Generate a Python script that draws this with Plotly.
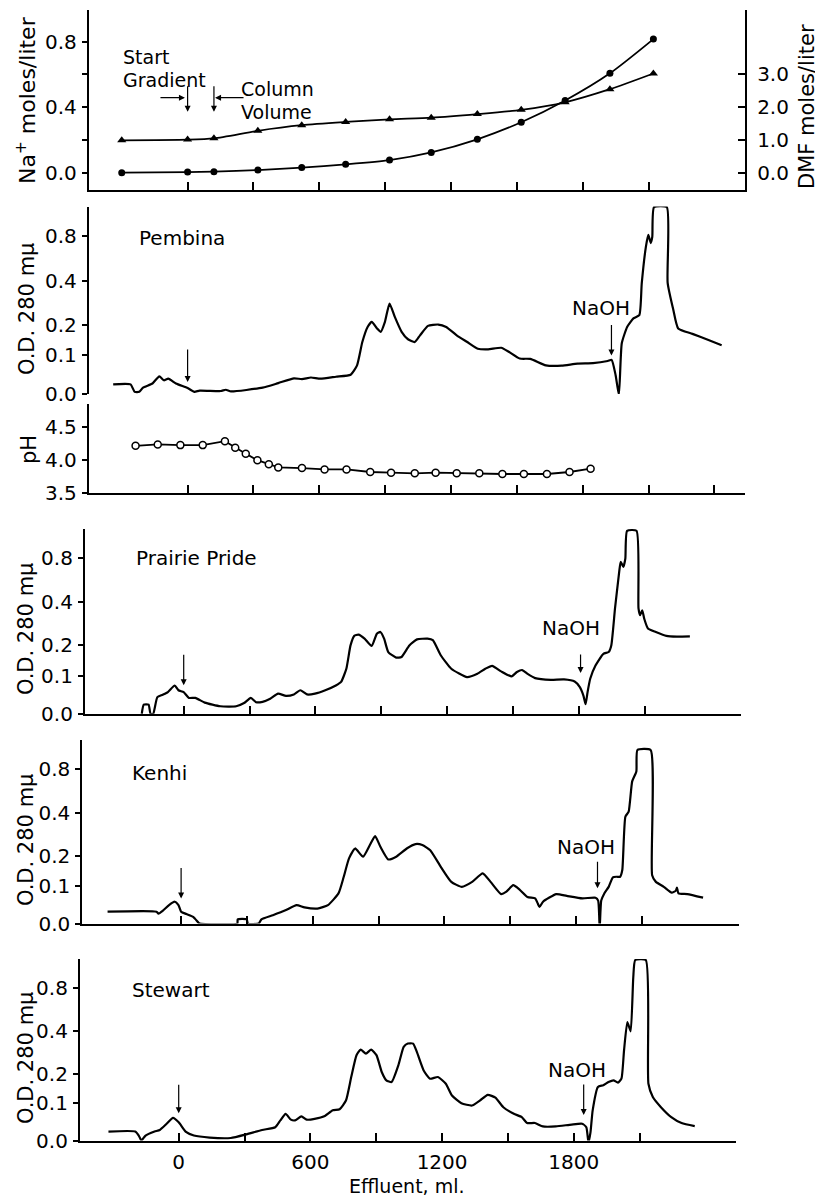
import plotly.graph_objects as go

# page body has an 8px margin: the figure is sized so it fills the window exactly
OFF = 8
W, H = 823 - OFF, 1197 - OFF
PX_PER_ML = 0.2195
X_MIN, X_MAX = -450, 2540
FONT = "DejaVu Sans"

# ---------------- data ----------------
X_TICKS = [0, 600, 1200, 1800]
X_TICK_LABELS = ["0", "600", "1200", "1800"]
X_MINOR = [300, 900, 1500, 2100]
OD_TICKS = [0.0, 0.1, 0.2, 0.4, 0.8]
OD_TICK_LABELS = ["0.0", "0.1", "0.2", "0.4", "0.8"]
NA_TICKS = [0.0, 0.4, 0.8]
NA_TICK_LABELS = ["0.0", "0.4", "0.8"]
NA_MINOR = [0.2, 0.6]
DMF_TICKS = [0, 1, 2, 3]
DMF_TICK_LABELS = ["0.0", "1.0", "2.0", "3.0"]
PH_TICKS = [3.5, 4.0, 4.5]
PH_TICK_LABELS = ["3.5", "4.0", "4.5"]

GRAD_ML = [-300, 0, 120, 320, 520, 720, 920, 1110, 1320, 1520, 1720, 1924, 2122]
NA = [0.000, 0.004, 0.006, 0.016, 0.031, 0.051, 0.077, 0.124, 0.204, 0.308, 0.441, 0.607, 0.816]
DMF = [0.99, 1.01, 1.05, 1.28, 1.45, 1.55, 1.63, 1.68, 1.79, 1.92, 2.15, 2.55, 3.03]

PH_ML = [-237, -136, -33, 69, 170, 217, 265, 318, 370, 413, 521, 624,
         724, 832, 927, 1035, 1130, 1226, 1329, 1434, 1532, 1637, 1740, 1836]
PH = [4.22, 4.24, 4.23, 4.23, 4.29, 4.19, 4.10, 4.00, 3.94, 3.89, 3.88, 3.86,
      3.86, 3.82, 3.81, 3.80, 3.81, 3.80, 3.80, 3.79, 3.79, 3.79, 3.82, 3.87]

PEMBINA_ML = [-339, -260, -241, -220, -203, -160, -129, -108, -88, -53,
              0, 31, 55, 151, 174, 198, 342, 413, 485, 521,
              562, 605, 676, 743, 772, 796, 820, 839, 863, 880,
              899, 920, 944, 975, 1004, 1035, 1059, 1095, 1142, 1178,
              1226, 1274, 1322, 1369, 1429, 1465, 1513, 1561, 1632, 1704,
              1776, 1847, 1914, 1932, 1950, 1965, 1978, 2003, 2031, 2058,
              2069, 2088, 2099, 2110, 2117, 2125, 2183, 2187, 2213, 2235,
              2300, 2370, 2433]
PEMBINA_OD = [0.023, 0.023, 0.005, 0.005, 0.015, 0.025, 0.043, 0.033, 0.037, 0.025,
              0.014, 0.005, 0.008, 0.007, 0.010, 0.006, 0.015, 0.026, 0.038, 0.036,
              0.040, 0.037, 0.042, 0.047, 0.072, 0.141, 0.192, 0.211, 0.187, 0.175,
              0.211, 0.286, 0.230, 0.175, 0.150, 0.141, 0.163, 0.196, 0.201, 0.192,
              0.163, 0.141, 0.120, 0.118, 0.123, 0.110, 0.091, 0.090, 0.072, 0.071,
              0.077, 0.078, 0.084, 0.087, 0.046, -0.002, 0.137, 0.193, 0.224, 0.237,
              0.387, 0.67, 0.82, 0.71, 0.79, 2.5, 2.5, 0.39, 0.258, 0.187,
              0.168, 0.148, 0.131]

PRAIRIE_ML = [-191, -182, -160, -151, -139, -120, -96, -72, -41, -24,
              0, 24, 53, 96, 167, 239, 275, 306, 330, 359,
              394, 430, 466, 502, 531, 562, 598, 645, 693, 717,
              741, 760, 777, 796, 824, 856, 880, 896, 913, 932,
              968, 992, 1028, 1063, 1111, 1135, 1171, 1219, 1291, 1338,
              1374, 1405, 1446, 1494, 1518, 1542, 1565, 1601, 1673, 1733,
              1781, 1804, 1821, 1831, 1840, 1852, 1876, 1912, 1936, 1948,
              1965, 1984, 1991, 2003, 2012, 2020, 2063, 2072, 2079, 2089,
              2098, 2115, 2151, 2199, 2247, 2306]
PRAIRIE_OD = [0.0, 0.022, 0.022, 0.0, 0.0, 0.041, 0.047, 0.054, 0.072, 0.059,
              0.054, 0.039, 0.039, 0.027, 0.018, 0.018, 0.026, 0.039, 0.028, 0.029,
              0.037, 0.050, 0.044, 0.048, 0.059, 0.048, 0.050, 0.059, 0.072, 0.082,
              0.121, 0.200, 0.237, 0.242, 0.226, 0.198, 0.246, 0.253, 0.226, 0.176,
              0.157, 0.159, 0.200, 0.223, 0.226, 0.220, 0.165, 0.121, 0.096, 0.106,
              0.121, 0.130, 0.113, 0.098, 0.111, 0.117, 0.106, 0.093, 0.088, 0.089,
              0.083, 0.068, 0.045, 0.023, 0.054, 0.091, 0.131, 0.170, 0.176, 0.200,
              0.365, 0.63, 0.745, 0.684, 0.79, 1.9, 1.9, 0.365, 0.33, 0.355,
              0.313, 0.268, 0.253, 0.237, 0.234, 0.235]

KENHI_ML = [-335, -112, -103, -84, -55, -29, -12, 0, 24, 55,
            79, 84, 256, 258, 299, 304, 354, 366, 418, 478,
            526, 562, 621, 669, 717, 741, 765, 793, 829, 860,
            884, 908, 944, 980, 1028, 1068, 1099, 1135, 1183, 1231,
            1279, 1326, 1374, 1410, 1458, 1482, 1513, 1542, 1578, 1613,
            1625, 1633, 1649, 1709, 1757, 1828, 1888, 1900, 1907, 1914,
            1928, 1948, 1967, 1984, 2000, 2010, 2024, 2039, 2055, 2074,
            2079, 2139, 2146, 2163, 2199, 2235, 2254, 2259, 2266, 2306,
            2378]
KENHI_OD = [0.029, 0.029, 0.024, 0.031, 0.046, 0.055, 0.046, 0.029, 0.023, 0.016,
            0.002, 0.0, 0.0, 0.010, 0.010, 0.0, 0.0, 0.010, 0.020, 0.033,
            0.046, 0.040, 0.037, 0.046, 0.078, 0.128, 0.191, 0.229, 0.197, 0.243,
            0.282, 0.236, 0.187, 0.197, 0.229, 0.247, 0.243, 0.222, 0.161, 0.112,
            0.097, 0.112, 0.139, 0.112, 0.076, 0.083, 0.102, 0.089, 0.068, 0.064,
            0.050, 0.041, 0.055, 0.076, 0.071, 0.064, 0.066, 0.058, -0.01, 0.058,
            0.078, 0.097, 0.126, 0.128, 0.128, 0.150, 0.38, 0.41, 0.65, 0.77,
            1.28, 1.28, 0.133, 0.112, 0.097, 0.080, 0.086, 0.095, 0.078, 0.076,
            0.066]

STEWART_ML = [-320, -198, -182, -170, -151, -110, -86, -55, -26, 0,
              33, 69, 141, 237, 308, 380, 440, 463, 487, 511,
              530, 559, 583, 619, 666, 702, 733, 762, 786, 810,
              829, 853, 877, 901, 925, 946, 970, 1001, 1025, 1044,
              1068, 1085, 1116, 1145, 1181, 1217, 1245, 1288, 1336, 1372,
              1408, 1443, 1479, 1527, 1563, 1587, 1623, 1659, 1718, 1790,
              1838, 1857, 1867, 1876, 1886, 1910, 1934, 1958, 1981, 2001,
              2017, 2029, 2044, 2059, 2071, 2080, 2128, 2140, 2160, 2196,
              2244, 2291, 2351]
STEWART_OD = [0.022, 0.022, 0.012, 0.0, 0.012, 0.022, 0.026, 0.042, 0.058, 0.046,
              0.021, 0.012, 0.007, 0.006, 0.015, 0.026, 0.033, 0.051, 0.069, 0.053,
              0.051, 0.062, 0.053, 0.055, 0.063, 0.079, 0.082, 0.108, 0.187, 0.276,
              0.302, 0.283, 0.302, 0.276, 0.206, 0.175, 0.169, 0.233, 0.315, 0.332,
              0.332, 0.291, 0.212, 0.181, 0.187, 0.163, 0.124, 0.100, 0.093, 0.108,
              0.126, 0.117, 0.088, 0.069, 0.060, 0.044, 0.044, 0.035, 0.035, 0.040,
              0.042, 0.033, -0.005, 0.020, 0.079, 0.152, 0.158, 0.169, 0.175, 0.167,
              0.181, 0.30, 0.46, 0.40, 1.0, 2.3, 2.3, 0.163, 0.119, 0.089,
              0.060, 0.044, 0.036]

# event arrows: (start-gradient ml, OD at tip), (NaOH ml, OD at tip)
PEMBINA_ARROWS = [(0, 0.029), (1931, 0.100)]
PRAIRIE_ARROWS = [(0, 0.073), (1808, 0.108)]
KENHI_ARROWS = [(0, 0.064), (1897, 0.093)]
STEWART_ARROWS = [(0, 0.071), (1845, 0.066)]


# ---------------- helpers (positions given in window pixels) ----------------
def fx(px):
    return (px - OFF) / W


def fy(py):
    return 1 - (py - OFF) / H


def trans(vals):
    # chart-recorder scale: linear in transmittance, labelled in O.D.
    return [10 ** (-v) for v in vals]


TICKFONT = dict(family=FONT, size=20, color="black")


def xaxis(x0px, anchor, show=True, minor=None, ticktext=None):
    left = x0px + X_MIN * PX_PER_ML
    right = x0px + X_MAX * PX_PER_ML
    d = dict(domain=[fx(left), fx(right)], range=[X_MIN, X_MAX], anchor=anchor,
             showgrid=False, zeroline=False, fixedrange=True, automargin=False)
    if show:
        d.update(showline=True, linecolor="black", linewidth=2, ticks="inside",
                 ticklen=8, tickwidth=1.5, tickcolor="black",
                 tickvals=X_TICKS, showticklabels=ticktext is not None,
                 minor=dict(tickvals=minor if minor is not None else X_MINOR,
                            ticks="inside", ticklen=8, tickwidth=1.5,
                            tickcolor="black", showgrid=False))
        if ticktext is not None:
            d.update(ticktext=ticktext, tickfont=TICKFONT, ticklabelstandoff=2)
    else:
        d.update(visible=False)
    return d


def yaxis(top, bot, rng, tickvals, ticktext, anchor, minor=None):
    d = dict(domain=[fy(bot), fy(top)], range=rng, anchor=anchor,
             showgrid=False, zeroline=False, fixedrange=True, automargin=False,
             showline=True, linecolor="black", linewidth=2,
             ticks="outside", ticklen=5, tickwidth=1.5, tickcolor="black",
             tickvals=tickvals, ticktext=ticktext, tickfont=TICKFONT,
             ticklabelstandoff=1)
    if minor is not None:
        d["minor"] = dict(tickvals=minor, ticks="outside", ticklen=5, tickwidth=1.5,
                          tickcolor="black", showgrid=False)
    return d


fig = go.Figure()
CURVE = dict(color="black", width=2.2, shape="spline", smoothing=0.5)

# top panel: Na+ and DMF gradients
fig.add_trace(go.Scatter(x=GRAD_ML, y=NA, xaxis="x", yaxis="y", mode="lines+markers",
                         line=dict(color="black", width=1.8, shape="spline", smoothing=0.7),
                         marker=dict(symbol="circle", size=7, color="black"),
                         showlegend=False, hoverinfo="skip"))
fig.add_trace(go.Scatter(x=GRAD_ML, y=DMF, xaxis="x", yaxis="y2", mode="lines+markers",
                         line=dict(color="black", width=1.8, shape="spline", smoothing=0.7),
                         marker=dict(symbol="triangle-up", size=8, color="black"),
                         showlegend=False, hoverinfo="skip"))

# OD panels
for xs, ods, xa, ya in [(PEMBINA_ML, PEMBINA_OD, "x2", "y3"),
                        (PRAIRIE_ML, PRAIRIE_OD, "x4", "y5"),
                        (KENHI_ML, KENHI_OD, "x5", "y6"),
                        (STEWART_ML, STEWART_OD, "x6", "y7")]:
    fig.add_trace(go.Scatter(x=xs, y=trans(ods), xaxis=xa, yaxis=ya, mode="lines",
                             line=CURVE, showlegend=False, hoverinfo="skip"))

# pH panel
fig.add_trace(go.Scatter(x=PH_ML, y=PH, xaxis="x3", yaxis="y4", mode="lines+markers",
                         line=dict(color="black", width=1.8),
                         marker=dict(symbol="circle", size=7, color="white",
                                     line=dict(color="black", width=1.5)),
                         showlegend=False, hoverinfo="skip"))

# ---------------- axes ----------------
X0_TOP = 187.6
OD_TV = trans(OD_TICKS)
layout_axes = dict(
    xaxis=xaxis(X0_TOP, "y"),
    yaxis=yaxis(10, 190.3, [-0.1075, 0.9936], NA_TICKS, NA_TICK_LABELS, "x", minor=NA_MINOR),
    yaxis2=dict(overlaying="y", side="right", anchor="x", range=[-0.5375, 4.968],
                showgrid=False, zeroline=False, fixedrange=True, automargin=False,
                showline=True, linecolor="black", linewidth=2, ticks="inside",
                ticklen=7, tickwidth=1.5, tickcolor="black",
                tickvals=DMF_TICKS, ticktext=DMF_TICK_LABELS, tickfont=TICKFONT,
                ticklabelstandoff=6),
    xaxis2=xaxis(X0_TOP, "y3", show=False),
    yaxis3=yaxis(206.5, 394, [1.0, 0.0], OD_TV, OD_TICK_LABELS, "x2"),
    xaxis3=xaxis(X0_TOP, "y4", minor=X_MINOR + [2400]),
    yaxis4=yaxis(404, 493, [3.5, 4.857], PH_TICKS, PH_TICK_LABELS, "x3"),
    xaxis4=xaxis(183.7, "y5"),
    yaxis5=yaxis(528.5, 713.8, [1.0, 0.0], OD_TV, OD_TICK_LABELS, "x4"),
    xaxis5=xaxis(181.1, "y6"),
    yaxis6=yaxis(740.4, 923.5, [1.0, 0.0], OD_TV, OD_TICK_LABELS, "x5"),
    xaxis6=xaxis(178.7, "y7", ticktext=X_TICK_LABELS),
    yaxis7=yaxis(959.1, 1140.5, [1.0, 0.0], OD_TV, OD_TICK_LABELS, "x6"),
)

# ---------------- annotations ----------------
anns = []


def text(t, xpx, ypx, xanchor="left", angle=0, size=20):
    anns.append(dict(text=t, x=fx(xpx), y=fy(ypx), xref="paper", yref="paper",
                     xanchor=xanchor, yanchor="middle", showarrow=False, borderpad=0,
                     textangle=angle, font=dict(family=FONT, size=size, color="black")))


def arrow(xv, yv, xref, yref, ax, ay):
    anns.append(dict(text="", x=xv, y=yv, xref=xref, yref=yref, ax=ax, ay=ay,
                     showarrow=True, arrowhead=2, arrowsize=1.0, arrowwidth=1.2,
                     arrowcolor="black"))


# axis titles
text("Na<sup>+</sup> moles/liter", 26, 100, "center", -90, 22)
text("DMF moles/liter", 807, 107, "center", -90, 21)
text("O.D. 280 m\u03bc", 27, 309, "center", -90, 21)
text("pH", 29, 450, "center", -90, 21)
text("O.D. 280 m\u03bc", 26, 629, "center", -90, 21)
text("O.D. 280 m\u03bc", 26, 840, "center", -90, 21)
text("O.D. 280 m\u03bc", 26, 1058, "center", -90, 21)
text("Effluent, ml.", 407, 1185.5, "center", 0, 19)

# top panel notes
text("Start", 122, 57, size=19)
text("Gradient", 122, 80, size=19)
text("Column", 240, 89, size=19)
text("Volume", 240, 112, size=19)
arrow(0, 0.372, "x", "y", 0, -27)
arrow(120, 0.372, "x", "y", 0, -27)
arrow(-12, 0.458, "x", "y", -26, 0)
arrow(125, 0.458, "x", "y", 30, 0)

# panel labels
text("Pembina", 138, 238)
text("NaOH", 601, 308, "center")
text("Prairie Pride", 135, 558)
text("NaOH", 571, 628, "center")
text("Kenhi", 131, 773)
text("NaOH", 586, 847, "center")
text("Stewart", 131, 990)
text("NaOH", 577, 1070, "center")

for arrows_, xa, ya, lens in [(PEMBINA_ARROWS, "x2", "y3", (-34, -32)),
                              (PRAIRIE_ARROWS, "x4", "y5", (-32, -20)),
                              (KENHI_ARROWS, "x5", "y6", (-32, -28)),
                              (STEWART_ARROWS, "x6", "y7", (-30, -32))]:
    for (ml, od), ln in zip(arrows_, lens):
        arrow(ml, 10 ** (-od), xa, ya, 0, ln)

fig.update_layout(
    width=W, height=H, autosize=False,
    margin=dict(l=0, r=0, t=0, b=0, pad=0),
    paper_bgcolor="white", plot_bgcolor="rgba(0,0,0,0)",
    template="none", showlegend=False,
    annotations=anns,
    **layout_axes,
)

fig.write_html("out.html")
